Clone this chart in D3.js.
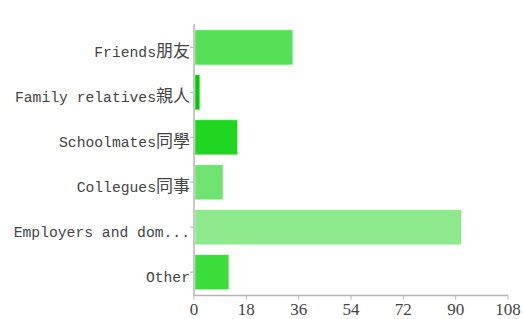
<!DOCTYPE html>
<html>
<head>
<meta charset="utf-8">
<script src="https://cdn.jsdelivr.net/npm/d3@7"></script>
<style>
  body { margin: 0; background: #fff; }
  svg { display: block; }
</style>
</head>
<body>
<svg id="chart" width="523" height="319"></svg>
<script>
// categories: latin part + chinese part
const categoryLatin = ['Friends', 'Family relatives', 'Schoolmates', 'Collegues', 'Employers and dom...', 'Other'];
const categoryCjk = ['朋友', '親人', '同學', '同事', '', ''];
const counts = [34, 2, 15, 10, 92, 12];
const barColors = ['#56e056', '#00cc00', '#20d620', '#70e470', '#8ce98c', '#3cdc3c'];
const xTicks = [0, 18, 36, 54, 72, 90, 108];

const svg = d3.select('#chart');
const axisColor = '#b4b4b4';
const textColor = '#444';

const x = d3.scaleLinear().domain([0, 108]).range([194, 508]);
const y = d3.scaleBand()
  .domain(d3.range(counts.length))
  .range([24, 295.5])
  .paddingInner(0.22)
  .paddingOuter(0.13);

// bars
svg.append('g').selectAll('rect')
  .data(counts)
  .join('rect')
  .attr('x', x(0) + 1)
  .attr('y', (d, i) => y(i))
  .attr('width', d => x(d) - x(0) - 1)
  .attr('height', y.bandwidth())
  .attr('fill', (d, i) => barColors[i])
  .attr('stroke', 'rgba(255,255,255,0.45)')
  .attr('stroke-width', 1);

// y axis
const yAxis = svg.append('g');
yAxis.append('line')
  .attr('x1', x(0)).attr('x2', x(0))
  .attr('y1', 24).attr('y2', 296)
  .attr('stroke', axisColor).attr('stroke-width', 1.5);

const rows = yAxis.selectAll('g.row')
  .data(counts.map((d, i) => i))
  .join('g')
  .attr('class', 'row')
  .attr('transform', i => `translate(0,${y(i) + y.bandwidth() / 2})`);

rows.append('line')
  .attr('x1', x(0) - 4).attr('x2', x(0))
  .attr('stroke', axisColor);

const lbl = rows.append('text')
  .attr('x', x(0) - 4)
  .attr('dy', 10)
  .attr('text-anchor', 'end')
  .attr('fill', textColor)
  .style('font-family', '"Liberation Mono", monospace')
  .style('font-size', '14.7px');
lbl.append('tspan').text(i => categoryLatin[i]);
lbl.append('tspan')
  .style('font-family', '"Noto Sans CJK TC", sans-serif')
  .style('font-size', '17px')
  .text(i => categoryCjk[i]);

// x axis
const xAxis = svg.append('g');
xAxis.append('line')
  .attr('x1', x(0)).attr('x2', x(108))
  .attr('y1', 295.5).attr('y2', 295.5)
  .attr('stroke', axisColor).attr('stroke-width', 1.5);

const xt = xAxis.selectAll('g.tick')
  .data(xTicks)
  .join('g')
  .attr('class', 'tick')
  .attr('transform', d => `translate(${x(d)},295.5)`);
xt.append('line').attr('y2', 4).attr('stroke', axisColor);
xt.append('text')
  .attr('y', 19)
  .attr('text-anchor', 'middle')
  .attr('fill', textColor)
  .style('font-family', '"Liberation Serif", serif')
  .style('font-size', '17px')
  .text(d => d);
</script>
</body>
</html>
